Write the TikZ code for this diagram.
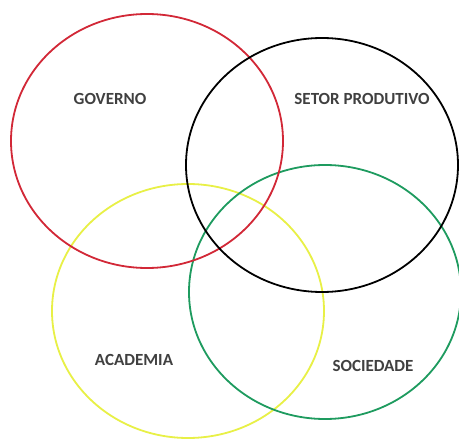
\documentclass[tikz,border=0pt]{standalone}
\usepackage{fontspec}
\setmainfont{Carlito}
\usetikzlibrary{shapes.geometric}
\definecolor{cred}{RGB}{210,40,55}
\definecolor{cyel}{RGB}{232,240,70}
\definecolor{cgrn}{RGB}{30,155,95}
\definecolor{ctxt}{RGB}{64,64,64}
\tikzset{
  ring/.style={ellipse, draw, line width=1.8pt, inner sep=0pt,
    minimum width=272pt, minimum height=254pt},
  lbl/.style={text=ctxt, font=\fontsize{17}{20}\selectfont\bfseries, inner sep=0pt}
}
\begin{document}
\begin{tikzpicture}[x=1pt,y=-1pt]
\useasboundingbox (0,0) rectangle (459,439);
\fill[white] (0,0) rectangle (459,439);
\node[ring, draw=cyel] (acad) at (188,311) {};
\node[ring, draw=cgrn] (soc) at (325,292) {};
\node[ring, draw=cred] (gov) at (147,141) {};
\node[ring, draw=black] (set) at (322,165) {};
\node[lbl] (tgov) at (110,99) {GOVERNO};
\node[lbl] (tset) at (362,99) {SETOR PRODUTIVO};
\node[lbl] (tacad) at (134,360) {ACADEMIA};
\node[lbl] (tsoc) at (373,366) {SOCIEDADE};
\end{tikzpicture}
\end{document}
